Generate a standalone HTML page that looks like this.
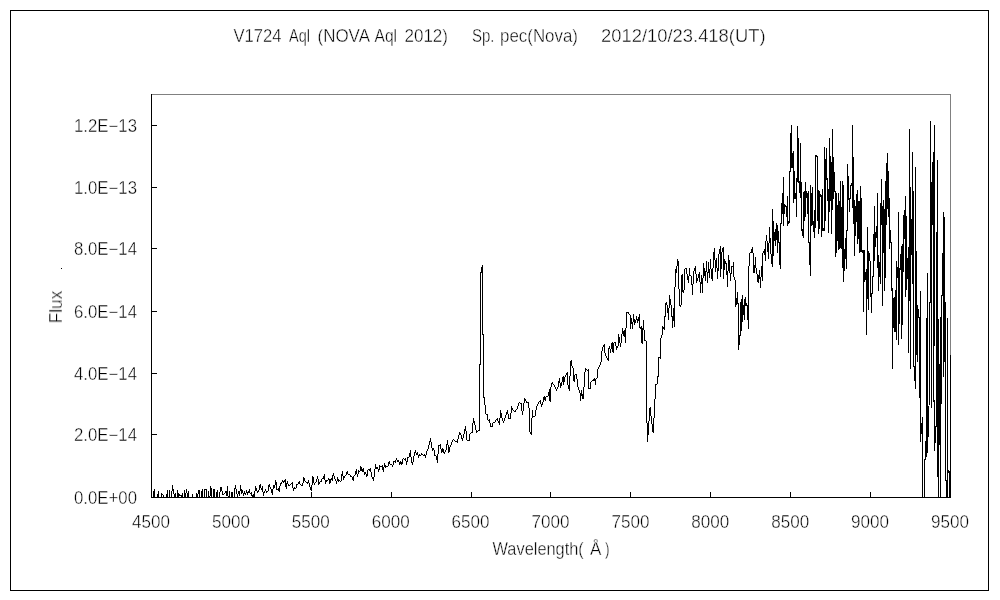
<!DOCTYPE html>
<html><head><meta charset="utf-8"><title>V1724 Aql spectrum</title>
<style>
html,body{margin:0;padding:0;background:#fff;}
body{width:1000px;height:600px;overflow:hidden;font-family:"Liberation Sans",sans-serif;}
svg{position:absolute;left:0;top:0;display:block}
text{font-family:"Liberation Sans",sans-serif;fill:#000;stroke:#fff;stroke-width:0.4px}
g.t{filter:grayscale(1)}
</style></head><body>
<svg width="1000" height="600" viewBox="0 0 1000 600">
<rect x="0" y="0" width="1000" height="600" fill="#fff"/>
<g shape-rendering="crispEdges">
<rect x="10.5" y="10.5" width="978" height="580" fill="none" stroke="#000" stroke-width="1"/>
<rect x="151" y="94" width="800" height="1" fill="#808080"/>
<rect x="950" y="94" width="1" height="404" fill="#808080"/>
<rect x="151" y="94" width="1" height="404" fill="#000"/>
<rect x="151" y="497" width="800" height="1" fill="#000"/>
<rect x="151" y="492" width="1" height="5" fill="#000"/>
<rect x="231" y="492" width="1" height="5" fill="#000"/>
<rect x="311" y="492" width="1" height="5" fill="#000"/>
<rect x="391" y="492" width="1" height="5" fill="#000"/>
<rect x="471" y="492" width="1" height="5" fill="#000"/>
<rect x="550" y="492" width="1" height="5" fill="#000"/>
<rect x="630" y="492" width="1" height="5" fill="#000"/>
<rect x="710" y="492" width="1" height="5" fill="#000"/>
<rect x="790" y="492" width="1" height="5" fill="#000"/>
<rect x="870" y="492" width="1" height="5" fill="#000"/>
<rect x="950" y="492" width="1" height="5" fill="#000"/>
<rect x="152" y="497" width="5" height="1" fill="#000"/>
<rect x="152" y="434" width="5" height="1" fill="#000"/>
<rect x="152" y="373" width="5" height="1" fill="#000"/>
<rect x="152" y="311" width="5" height="1" fill="#000"/>
<rect x="152" y="248" width="5" height="1" fill="#000"/>
<rect x="152" y="187" width="5" height="1" fill="#000"/>
<rect x="152" y="125" width="5" height="1" fill="#000"/>
<rect x="61" y="268" width="1" height="1" fill="#000"/>
</g>
<path shape-rendering="crispEdges" fill="#000" d="M153 491v7h1v-7zM154 489v8h1v-8zM155 497v1h1v-1zM157 494v4h1v-4zM158 491v7h1v-7zM160 497v1h1v-1zM161 493v4h1v-4zM162 494v1h1v-1zM163 495v3h1v-3zM166 494v4h1v-4zM167 490v8h1v-8zM169 490v8h1v-8zM171 491v7h1v-7zM172 485v6h1v-6zM173 489v5h1v-5zM174 494v3h1v-3zM175 493v5h1v-5zM177 490v8h1v-8zM178 493v4h1v-4zM179 494v2h1v-2zM180 495v1h1v-1zM181 495v2h1v-2zM182 493v5h1v-5zM184 490v8h1v-8zM185 493v4h1v-4zM186 489v4h1v-4zM187 493v4h1v-4zM188 491v7h1v-7zM192 494v4h1v-4zM196 493v5h1v-5zM197 494v3h1v-3zM198 490v4h1v-4zM199 490v8h1v-8zM201 491v7h1v-7zM202 489v8h1v-8zM203 497v1h1v-1zM204 489v9h1v-9zM205 489v1h1v-1zM206 489v8h1v-8zM207 497v1h1v-1zM208 491v7h1v-7zM209 496v2h1v-2zM210 486v10h1v-10zM211 488v9h1v-9zM212 497v1h1v-1zM213 489v9h1v-9zM214 489v8h1v-8zM215 497v1h1v-1zM216 492v6h1v-6zM217 490v8h1v-8zM219 492v6h1v-6zM220 487v5h1v-5zM221 487v4h1v-4zM222 491v4h1v-4zM223 494v1h1v-1zM224 493v1h1v-1zM225 491v2h1v-2zM226 491v5h1v-5zM227 486v10h1v-10zM228 496v2h1v-2zM229 491v7h1v-7zM231 493v5h1v-5zM232 492v6h1v-6zM234 488v10h1v-10zM235 485v4h1v-4zM236 489v5h1v-5zM237 494v3h1v-3zM238 491v3h1v-3zM239 491v5h1v-5zM240 485v6h1v-6zM241 489v5h1v-5zM242 490v3h1v-3zM243 493v3h1v-3zM244 491v3h1v-3zM245 493v2h1v-2zM246 490v3h1v-3zM247 492v3h1v-3zM248 491v2h1v-2zM249 489v4h1v-4zM250 493v1h1v-1zM251 492v4h1v-4zM252 495v2h1v-2zM253 494v3h1v-3zM254 491v7h1v-7zM255 486v5h1v-5zM256 488v3h1v-3zM257 491v2h1v-2zM258 490v2h1v-2zM259 485v5h1v-5zM260 484v4h1v-4zM261 488v2h1v-2zM262 486v6h1v-6zM263 492v4h1v-4zM264 491v2h1v-2zM265 489v2h1v-2zM266 491v2h1v-2zM267 491v1h1v-1zM268 485v6h1v-6zM269 484v3h1v-3zM270 487v2h1v-2zM271 489v4h1v-4zM272 489v6h1v-6zM273 485v4h1v-4zM274 485v3h1v-3zM275 480v5h1v-5zM276 482v8h1v-8zM277 489v1h1v-1zM278 488v3h1v-3zM279 486v6h1v-6zM280 483v3h1v-3zM281 482v2h1v-2zM282 480v2h1v-2zM283 481v2h1v-2zM284 480v2h1v-2zM285 479v8h1v-8zM286 483v6h1v-6zM287 481v3h1v-3zM288 484v2h1v-2zM289 485v1h1v-1zM290 484v1h1v-1zM291 483v1h1v-1zM292 482v6h1v-6zM293 488v3h1v-3zM294 487v2h1v-2zM295 488v1h1v-1zM296 484v4h1v-4zM297 484v1h1v-1zM298 482v2h1v-2zM299 481v3h1v-3zM300 484v1h1v-1zM301 485v1h1v-1zM302 483v3h1v-3zM303 477v6h1v-6zM304 478v3h1v-3zM305 481v1h1v-1zM306 482v1h1v-1zM307 482v2h1v-2zM308 480v3h1v-3zM309 483v4h1v-4zM310 487v3h1v-3zM311 485v6h1v-6zM312 476v9h1v-9zM313 477v6h1v-6zM314 483v2h1v-2zM315 482v1h1v-1zM316 479v3h1v-3zM317 476v3h1v-3zM318 479v6h1v-6zM319 482v2h1v-2zM320 481v1h1v-1zM321 479v3h1v-3zM322 478v1h1v-1zM323 476v3h1v-3zM324 474v6h1v-6zM325 480v4h1v-4zM326 480v2h1v-2zM327 480v1h1v-1zM328 478v2h1v-2zM329 479v5h1v-5zM330 479v4h1v-4zM331 478v2h1v-2zM332 475v6h1v-6zM333 473v3h1v-3zM334 476v3h1v-3zM335 479v2h1v-2zM336 481v3h1v-3zM337 477v4h1v-4zM338 479v3h1v-3zM339 480v1h1v-1zM340 481v1h1v-1zM341 474v7h1v-7zM342 471v5h1v-5zM343 476v4h1v-4zM344 476v2h1v-2zM345 475v1h1v-1zM346 472v3h1v-3zM347 471v3h1v-3zM348 474v1h1v-1zM349 474v1h1v-1zM350 475v2h1v-2zM351 476v1h1v-1zM352 477v3h1v-3zM353 476v5h1v-5zM354 475v1h1v-1zM355 471v4h1v-4zM356 469v5h1v-5zM357 474v3h1v-3zM358 470v4h1v-4zM359 471v1h1v-1zM360 466v5h1v-5zM361 467v4h1v-4zM362 469v3h1v-3zM363 468v4h1v-4zM364 472v3h1v-3zM365 472v2h1v-2zM366 474v3h1v-3zM367 470v6h1v-6zM368 469v1h1v-1zM369 469v2h1v-2zM370 468v4h1v-4zM371 472v5h1v-5zM372 477v2h1v-2zM373 477v4h1v-4zM374 469v8h1v-8zM375 464v5h1v-5zM376 467v2h1v-2zM377 467v2h1v-2zM378 469v3h1v-3zM379 465v5h1v-5zM380 466v1h1v-1zM381 466v1h1v-1zM382 465v5h1v-5zM383 467v5h1v-5zM384 463v4h1v-4zM385 465v3h1v-3zM386 466v1h1v-1zM387 466v1h1v-1zM388 462v4h1v-4zM389 461v3h1v-3zM390 464v1h1v-1zM391 464v1h1v-1zM392 465v2h1v-2zM393 461v4h1v-4zM394 461v1h1v-1zM395 460v3h1v-3zM396 458v2h1v-2zM397 460v2h1v-2zM398 460v2h1v-2zM399 462v3h1v-3zM400 461v3h1v-3zM401 462v3h1v-3zM402 459v5h1v-5zM403 458v1h1v-1zM404 459v1h1v-1zM405 458v3h1v-3zM406 461v4h1v-4zM407 457v5h1v-5zM408 457v1h1v-1zM409 453v4h1v-4zM410 450v7h1v-7zM411 457v6h1v-6zM412 462v3h1v-3zM413 456v6h1v-6zM414 452v4h1v-4zM415 450v3h1v-3zM416 453v2h1v-2zM417 452v3h1v-3zM418 455v3h1v-3zM419 454v2h1v-2zM420 455v1h1v-1zM421 453v2h1v-2zM422 454v1h1v-1zM423 455v1h1v-1zM424 454v2h1v-2zM425 455v3h1v-3zM426 451v4h1v-4zM427 449v2h1v-2zM428 445v4h1v-4zM429 441v4h1v-4zM430 438v4h1v-4zM431 442v6h1v-6zM432 448v3h1v-3zM433 448v2h1v-2zM434 450v6h1v-6zM435 455v1h1v-1zM436 456v4h1v-4zM437 454v9h1v-9zM438 445v9h1v-9zM439 445v1h1v-1zM440 444v5h1v-5zM441 449v4h1v-4zM442 448v4h1v-4zM443 449v4h1v-4zM444 452v2h1v-2zM445 450v2h1v-2zM446 444v6h1v-6zM447 440v5h1v-5zM448 445v8h1v-8zM449 447v5h1v-5zM450 445v2h1v-2zM451 442v3h1v-3zM452 440v2h1v-2zM453 439v1h1v-1zM454 440v1h1v-1zM455 441v1h1v-1zM456 441v1h1v-1zM457 439v4h1v-4zM458 435v4h1v-4zM459 432v3h1v-3zM460 433v2h1v-2zM461 435v4h1v-4zM462 438v3h1v-3zM463 434v4h1v-4zM464 429v5h1v-5zM465 426v5h1v-5zM466 431v9h1v-9zM467 440v1h1v-1zM468 440v1h1v-1zM469 434v7h1v-7zM470 433v1h1v-1zM471 432v1h1v-1zM472 423v10h1v-10zM473 418v5h1v-5zM474 421v4h1v-4zM475 425v5h1v-5zM476 430v3h1v-3zM477 431v1h1v-1zM478 430v1h1v-1zM479 364v67h1v-67zM480 272v93h1v-93zM481 267v6h1v-6zM482 265v70h1v-70zM483 334v64h1v-64zM484 397v8h1v-8zM485 405v9h1v-9zM486 414v1h1v-1zM487 414v6h1v-6zM488 420v1h1v-1zM489 419v4h1v-4zM490 423v4h1v-4zM491 426v1h1v-1zM492 423v4h1v-4zM493 422v1h1v-1zM494 422v1h1v-1zM495 420v2h1v-2zM496 419v1h1v-1zM497 418v3h1v-3zM498 421v2h1v-2zM499 418v7h1v-7zM500 410v8h1v-8zM501 413v5h1v-5zM502 418v3h1v-3zM503 421v2h1v-2zM504 418v3h1v-3zM505 415v3h1v-3zM506 412v3h1v-3zM507 410v4h1v-4zM508 414v5h1v-5zM509 418v1h1v-1zM510 413v6h1v-6zM511 406v7h1v-7zM512 408v2h1v-2zM513 410v1h1v-1zM514 411v1h1v-1zM515 410v2h1v-2zM516 409v1h1v-1zM517 406v3h1v-3zM518 403v3h1v-3zM519 402v1h1v-1zM520 403v1h1v-1zM521 403v8h1v-8zM522 411v4h1v-4zM523 403v8h1v-8zM524 398v5h1v-5zM525 399v2h1v-2zM526 401v2h1v-2zM527 402v1h1v-1zM528 402v6h1v-6zM529 408v24h1v-24zM530 432v2h1v-2zM531 418v17h1v-17zM532 410v8h1v-8zM533 416v1h1v-1zM534 416v1h1v-1zM535 410v6h1v-6zM536 406v4h1v-4zM537 404v2h1v-2zM538 402v2h1v-2zM539 401v1h1v-1zM540 400v4h1v-4zM541 404v3h1v-3zM542 402v3h1v-3zM543 397v5h1v-5zM544 396v4h1v-4zM545 397v4h1v-4zM546 396v1h1v-1zM547 396v1h1v-1zM548 392v4h1v-4zM549 389v12h1v-12zM550 387v15h1v-15zM551 383v4h1v-4zM552 382v2h1v-2zM553 384v1h1v-1zM554 385v2h1v-2zM555 387v2h1v-2zM556 389v2h1v-2zM557 387v2h1v-2zM558 381v6h1v-6zM559 378v5h1v-5zM560 383v5h1v-5zM561 382v4h1v-4zM562 377v5h1v-5zM563 376v9h1v-9zM564 377v5h1v-5zM565 375v2h1v-2zM566 373v2h1v-2zM567 372v13h1v-13zM568 385v4h1v-4zM569 376v15h1v-15zM570 361v15h1v-15zM571 360v6h1v-6zM572 366v2h1v-2zM573 368v13h1v-13zM574 375v7h1v-7zM575 374v1h1v-1zM576 374v5h1v-5zM577 379v8h1v-8zM578 387v3h1v-3zM579 390v3h1v-3zM580 393v8h1v-8zM581 390v6h1v-6zM582 394v5h1v-5zM583 387v12h1v-12zM584 372v15h1v-15zM585 368v4h1v-4zM586 369v1h1v-1zM587 370v1h1v-1zM588 369v20h1v-20zM589 388v1h1v-1zM590 382v7h1v-7zM591 381v1h1v-1zM592 380v1h1v-1zM593 379v2h1v-2zM594 378v3h1v-3zM595 379v6h1v-6zM596 378v1h1v-1zM597 369v9h1v-9zM598 367v2h1v-2zM599 365v2h1v-2zM600 362v3h1v-3zM601 351v11h1v-11zM602 347v4h1v-4zM603 345v2h1v-2zM604 344v9h1v-9zM605 353v3h1v-3zM606 356v2h1v-2zM607 358v2h1v-2zM608 348v13h1v-13zM609 346v3h1v-3zM610 349v4h1v-4zM611 343v6h1v-6zM612 342v10h1v-10zM613 343v10h1v-10zM614 342v1h1v-1zM615 342v4h1v-4zM616 346v4h1v-4zM617 346v2h1v-2zM618 334v12h1v-12zM619 337v6h1v-6zM620 343v4h1v-4zM621 334v9h1v-9zM622 328v6h1v-6zM623 331v5h1v-5zM624 330v7h1v-7zM625 328v15h1v-15zM626 312v16h1v-16zM627 312v1h1v-1zM628 312v2h1v-2zM629 314v1h1v-1zM630 315v14h1v-14zM631 318v6h1v-6zM632 322v7h1v-7zM633 314v8h1v-8zM634 319v6h1v-6zM635 320v3h1v-3zM636 316v4h1v-4zM637 319v4h1v-4zM638 317v4h1v-4zM639 314v14h1v-14zM640 327v2h1v-2zM641 326v17h1v-17zM642 328v16h1v-16zM643 320v10h1v-10zM644 330v11h1v-11zM645 340v1h1v-1zM646 341v82h1v-82zM647 423v19h1v-19zM648 421v14h1v-14zM649 408v13h1v-13zM650 407v9h1v-9zM651 416v8h1v-8zM652 424v8h1v-8zM653 418v15h1v-15zM654 399v19h1v-19zM655 384v15h1v-15zM656 384v1h1v-1zM657 376v8h1v-8zM658 357v20h1v-20zM659 357v1h1v-1zM660 338v21h1v-21zM661 335v3h1v-3zM662 326v9h1v-9zM663 327v2h1v-2zM664 316v14h1v-14zM665 303v14h1v-14zM666 302v3h1v-3zM667 305v8h1v-8zM668 308v12h1v-12zM669 295v13h1v-13zM670 299v6h1v-6zM671 305v12h1v-12zM672 316v12h1v-12zM673 308v13h1v-13zM674 287v40h1v-40zM675 269v18h1v-18zM676 266v7h1v-7zM677 259v7h1v-7zM678 261v28h1v-28zM679 289v17h1v-17zM680 305v2h1v-2zM681 275v30h1v-30zM682 274v18h1v-18zM683 290v3h1v-3zM684 269v21h1v-21zM685 268v1h1v-1zM686 268v6h1v-6zM687 274v6h1v-6zM688 276v7h1v-7zM689 268v8h1v-8zM690 275v1h1v-1zM691 276v9h1v-9zM692 284v11h1v-11zM693 271v13h1v-13zM694 268v3h1v-3zM695 266v8h1v-8zM696 274v9h1v-9zM697 278v3h1v-3zM698 274v4h1v-4zM699 272v10h1v-10zM700 282v11h1v-11zM701 275v9h1v-9zM702 278v15h1v-15zM703 263v15h1v-15zM704 268v8h1v-8zM705 271v10h1v-10zM706 261v11h1v-11zM707 272v11h1v-11zM708 262v11h1v-11zM709 269v9h1v-9zM710 259v10h1v-10zM711 269v10h1v-10zM712 268v13h1v-13zM713 252v16h1v-16zM714 248v12h1v-12zM715 260v12h1v-12zM716 258v10h1v-10zM717 268v11h1v-11zM718 254v17h1v-17zM719 249v5h1v-5zM720 246v31h1v-31zM721 252v17h1v-17zM722 248v4h1v-4zM723 247v32h1v-32zM724 259v11h1v-11zM725 261v3h1v-3zM726 263v12h1v-12zM727 271v16h1v-16zM728 255v16h1v-16zM729 260v13h1v-13zM730 273v8h1v-8zM731 266v8h1v-8zM732 266v1h1v-1zM733 262v15h1v-15zM734 277v3h1v-3zM735 280v27h1v-27zM736 298v7h1v-7zM737 292v12h1v-12zM738 303v47h1v-47zM739 335v10h1v-10zM740 302v34h1v-34zM741 299v32h1v-32zM742 295v27h1v-27zM743 305v10h1v-10zM744 299v21h1v-21zM745 297v9h1v-9zM746 303v3h1v-3zM747 305v15h1v-15zM748 266v63h1v-63zM749 253v13h1v-13zM750 252v1h1v-1zM751 249v4h1v-4zM752 247v6h1v-6zM753 253v20h1v-20zM754 265v8h1v-8zM755 257v11h1v-11zM756 268v6h1v-6zM757 274v8h1v-8zM758 275v8h1v-8zM759 270v9h1v-9zM760 277v11h1v-11zM761 266v11h1v-11zM762 253v28h1v-28zM763 251v2h1v-2zM764 249v6h1v-6zM765 241v20h1v-20zM766 235v6h1v-6zM767 241v11h1v-11zM768 243v16h1v-16zM769 227v16h1v-16zM770 238v16h1v-16zM771 254v10h1v-10zM772 209v58h1v-58zM773 221v35h1v-35zM774 232v9h1v-9zM775 229v17h1v-17zM776 223v17h1v-17zM777 225v28h1v-28zM778 231v12h1v-12zM779 242v23h1v-23zM780 223v46h1v-46zM781 203v21h1v-21zM782 193v21h1v-21zM783 177v49h1v-49zM784 204v10h1v-10zM785 205v2h1v-2zM786 206v11h1v-11zM787 196v30h1v-30zM788 221v3h1v-3zM789 171v52h1v-52zM790 133v39h1v-39zM791 125v43h1v-43zM792 153v15h1v-15zM793 151v52h1v-52zM794 171v28h1v-28zM795 193v6h1v-6zM796 178v39h1v-39zM797 126v56h1v-56zM798 138v45h1v-45zM799 181v12h1v-12zM800 143v55h1v-55zM801 182v49h1v-49zM802 229v7h1v-7zM803 192v46h1v-46zM804 191v30h1v-30zM805 182v35h1v-35zM806 191v7h1v-7zM807 193v21h1v-21zM808 191v52h1v-52zM809 242v23h1v-23zM810 185v91h1v-91zM811 193v33h1v-33zM812 187v38h1v-38zM813 221v11h1v-11zM814 210v28h1v-28zM815 155v73h1v-73zM816 155v2h1v-2zM817 156v65h1v-65zM818 190v44h1v-44zM819 191v38h1v-38zM820 194v3h1v-3zM821 195v42h1v-42zM822 189v42h1v-42zM823 228v3h1v-3zM824 147v84h1v-84zM825 159v62h1v-62zM826 148v32h1v-32zM827 178v23h1v-23zM828 189v44h1v-44zM829 138v74h1v-74zM830 156v45h1v-45zM831 162v72h1v-72zM832 129v81h1v-81zM833 157v42h1v-42zM834 172v20h1v-20zM835 191v66h1v-66zM836 193v60h1v-60zM837 205v36h1v-36zM838 193v57h1v-57zM839 201v48h1v-48zM840 181v67h1v-67zM841 207v42h1v-42zM842 181v87h1v-87zM843 185v97h1v-97zM844 249v22h1v-22zM845 238v21h1v-21zM846 230v39h1v-39zM847 164v67h1v-67zM848 176v24h1v-24zM849 198v14h1v-14zM850 185v14h1v-14zM851 183v3h1v-3zM852 125v83h1v-83zM853 157v67h1v-67zM854 200v56h1v-56zM855 206v30h1v-30zM856 194v28h1v-28zM857 190v54h1v-54zM858 201v38h1v-38zM859 201v52h1v-52zM860 186v66h1v-66zM861 198v54h1v-54zM862 250v3h1v-3zM863 250v62h1v-62zM864 250v32h1v-32zM865 272v8h1v-8zM866 269v66h1v-66zM867 227v72h1v-72zM868 251v59h1v-59zM869 253v8h1v-8zM870 261v36h1v-36zM871 293v20h1v-20zM872 276v18h1v-18zM873 234v43h1v-43zM874 206v55h1v-55zM875 232v15h1v-15zM876 226v12h1v-12zM877 193v75h1v-75zM878 255v36h1v-36zM879 262v15h1v-15zM880 203v81h1v-81zM881 179v46h1v-46zM882 206v100h1v-100zM883 200v53h1v-53zM884 209v82h1v-82zM885 181v97h1v-97zM886 163v62h1v-62zM887 153v56h1v-56zM888 171v46h1v-46zM889 198v51h1v-51zM890 230v13h1v-13zM891 242v49h1v-49zM892 288v81h1v-81zM893 298v30h1v-30zM894 297v35h1v-35zM895 290v42h1v-42zM896 261v79h1v-79zM897 267v11h1v-11zM898 212v133h1v-133zM899 268v56h1v-56zM900 254v16h1v-16zM901 246v93h1v-93zM902 244v81h1v-81zM903 215v57h1v-57zM904 210v29h1v-29zM905 196v101h1v-101zM906 216v74h1v-74zM907 258v21h1v-21zM908 247v106h1v-106zM909 129v172h1v-172zM910 187v182h1v-182zM911 219v36h1v-36zM912 152v132h1v-132zM913 191v176h1v-176zM914 366v15h1v-15zM915 167v222h1v-222zM916 251v104h1v-104zM917 305v57h1v-57zM918 309v9h1v-9zM919 317v81h1v-81zM920 291v151h1v-151zM921 423v11h1v-11zM922 417v81h1v-81zM924 459v39h1v-39zM925 441v19h1v-19zM926 318v139h1v-139zM927 273v180h1v-180zM928 406v31h1v-31zM929 302v103h1v-103zM930 121v182h1v-182zM931 182v226h1v-226zM932 162v63h1v-63zM933 152v250h1v-250zM934 125v221h1v-221zM934 400v51h1v-51zM935 426v17h1v-17zM936 232v195h1v-195zM937 160v317h1v-317zM938 319v179h1v-179zM939 364v81h1v-81zM940 317v181h1v-181zM941 295v109h1v-109zM942 253v43h1v-43zM943 212v165h1v-165zM944 217v145h1v-145zM945 302v179h1v-179zM946 480v18h1v-18zM947 318v180h1v-180zM948 470v3h1v-3zM949 471v27h1v-27zM950 355v143h1v-143z"/>
<g class="t" font-size="17.5">
<text x="74" y="503.6" textLength="63" lengthAdjust="spacingAndGlyphs">0.0E+00</text>
<text x="74" y="440.6" textLength="63" lengthAdjust="spacingAndGlyphs">2.0E−14</text>
<text x="74" y="379.6" textLength="63" lengthAdjust="spacingAndGlyphs">4.0E−14</text>
<text x="74" y="317.6" textLength="63" lengthAdjust="spacingAndGlyphs">6.0E−14</text>
<text x="74" y="254.6" textLength="63" lengthAdjust="spacingAndGlyphs">8.0E−14</text>
<text x="74" y="193.6" textLength="63" lengthAdjust="spacingAndGlyphs">1.0E−13</text>
<text x="74" y="131.6" textLength="63" lengthAdjust="spacingAndGlyphs">1.2E−13</text>
<text x="132.0" y="528" textLength="38" lengthAdjust="spacingAndGlyphs">4500</text>
<text x="211.9" y="528" textLength="38" lengthAdjust="spacingAndGlyphs">5000</text>
<text x="291.8" y="528" textLength="38" lengthAdjust="spacingAndGlyphs">5500</text>
<text x="371.7" y="528" textLength="38" lengthAdjust="spacingAndGlyphs">6000</text>
<text x="451.6" y="528" textLength="38" lengthAdjust="spacingAndGlyphs">6500</text>
<text x="531.5" y="528" textLength="38" lengthAdjust="spacingAndGlyphs">7000</text>
<text x="611.4" y="528" textLength="38" lengthAdjust="spacingAndGlyphs">7500</text>
<text x="691.3" y="528" textLength="38" lengthAdjust="spacingAndGlyphs">8000</text>
<text x="771.2" y="528" textLength="38" lengthAdjust="spacingAndGlyphs">8500</text>
<text x="851.1" y="528" textLength="38" lengthAdjust="spacingAndGlyphs">9000</text>
<text x="931.0" y="528" textLength="38" lengthAdjust="spacingAndGlyphs">9500</text>
<text x="233.5" y="41.7" textLength="48.0" lengthAdjust="spacingAndGlyphs">V1724</text>
<text x="289.0" y="41.7" textLength="21.0" lengthAdjust="spacingAndGlyphs">Aql</text>
<text x="317.5" y="41.7" textLength="52.5" lengthAdjust="spacingAndGlyphs">(NOVA</text>
<text x="374.5" y="41.7" textLength="22.5" lengthAdjust="spacingAndGlyphs">Aql</text>
<text x="404.5" y="41.7" textLength="43.5" lengthAdjust="spacingAndGlyphs">2012)</text>
<text x="472.0" y="41.7" textLength="22.5" lengthAdjust="spacingAndGlyphs">Sp.</text>
<text x="500.0" y="41.7" textLength="78.0" lengthAdjust="spacingAndGlyphs">pec(Nova)</text>
<text x="601.0" y="41.7" textLength="164.6" lengthAdjust="spacingAndGlyphs">2012/10/23.418(UT)</text>
<text x="492.5" y="554.5" textLength="91.3" lengthAdjust="spacingAndGlyphs">Wavelength(</text>
<text x="590" y="554.5" textLength="11.4" lengthAdjust="spacingAndGlyphs">Å</text>
<text x="605" y="554.5" textLength="4.5" lengthAdjust="spacingAndGlyphs">)</text>
<text transform="translate(62,323.3) rotate(-90)" x="0" y="0" textLength="32.5" lengthAdjust="spacingAndGlyphs">Flux</text>
</g>
</svg>
</body></html>
